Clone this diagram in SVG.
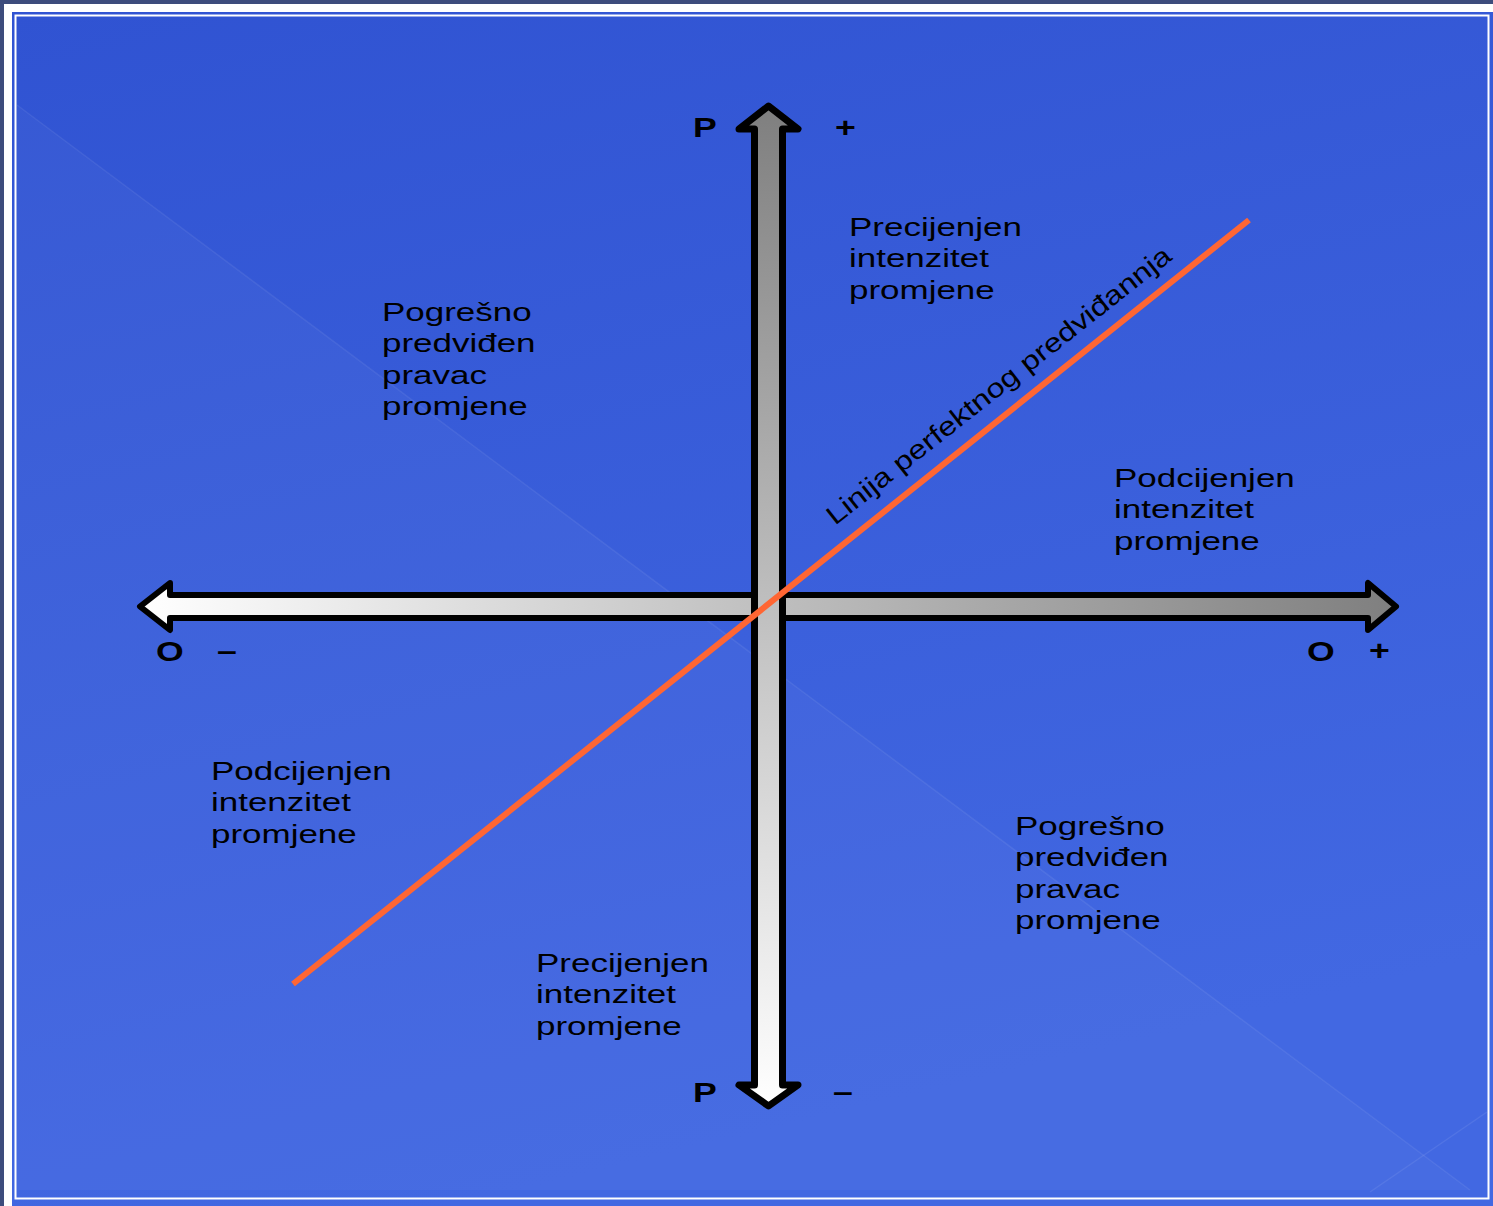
<svg xmlns="http://www.w3.org/2000/svg" width="1493" height="1206" viewBox="0 0 1493 1206">
  <style>
    .lbl { font-family: "Liberation Sans", Arial, sans-serif; font-size: 26.5px; fill: #000; }
    .ax { font-family: "Liberation Sans", Arial, sans-serif; font-size: 27px; font-weight: bold; fill: #000; }
    .arrow { stroke: #000; stroke-linejoin: round; }
  </style>
  <defs>
    <linearGradient id="bg" x1="0" y1="0" x2="0.3" y2="1">
      <stop offset="0" stop-color="#3053d2"/>
      <stop offset="1" stop-color="#4268e2"/>
    </linearGradient>
    <linearGradient id="gv" gradientUnits="userSpaceOnUse" x1="0" y1="106" x2="0" y2="1106">
      <stop offset="0" stop-color="#7f7f7f"/>
      <stop offset="1" stop-color="#ffffff"/>
    </linearGradient>
    <linearGradient id="gh" gradientUnits="userSpaceOnUse" x1="140" y1="0" x2="1396" y2="0">
      <stop offset="0" stop-color="#ffffff"/>
      <stop offset="1" stop-color="#7f7f7f"/>
    </linearGradient>
  </defs>

  <g id="background">
    <rect x="0" y="0" width="1493" height="1206" fill="#3d4c7c"/>
    <rect x="4" y="4" width="1489" height="1202" fill="#ffffff"/>
    <rect x="12" y="12" width="1481" height="1194" fill="url(#bg)"/>
    <polygon points="17,105 1470,1190 17,1190" fill="#ffffff" fill-opacity="0.03"/>
    <line x1="17" y1="105" x2="1470" y2="1190" stroke="#ffffff" stroke-opacity="0.07" stroke-width="1.5"/>
    <line x1="1487" y1="1112" x2="1370" y2="1192" stroke="#ffffff" stroke-opacity="0.08" stroke-width="1.5"/>
    <rect x="15.5" y="15.5" width="1473" height="1183" fill="none" stroke="#ffffff" stroke-width="2"/>
  </g>

  <g id="axis-o">
    <path class="arrow" stroke-width="6" fill="url(#gh)" d="M170,595 L170,583 L140,606.5 L170,630 L170,618 L1368,618 L1368,630 L1396,606.5 L1368,583 L1368,595 Z"/>
  </g>
  <g id="axis-p">
    <path class="arrow" stroke-width="7" fill="url(#gv)" d="M754.5,1085 L754.5,129 L739,129 L768.5,106 L798,129 L782.5,129 L782.5,1085 L798,1085 L768.5,1106 L739,1085 Z"/>
  </g>

  <g id="connectors">
    <line x1="293" y1="984" x2="1249" y2="220" stroke="#ff6633" stroke-width="6"/>
  </g>

  <g id="line-label">
    <text class="lbl" transform="translate(835,526) rotate(-38.3) scale(1.22,1)">Linija perfektnog predviđannja</text>
  </g>

  <g id="axis-labels">
    <text class="ax" transform="translate(693,0) scale(1.32,1)" y="137">P</text>
    <text class="ax" transform="translate(835,0) scale(1.32,1)" y="137">+</text>
    <text class="ax" transform="translate(693,0) scale(1.32,1)" y="1102">P</text>
    <text class="ax" transform="translate(833,0) scale(1.32,1)" y="1101">–</text>
    <text class="ax" transform="translate(156,0) scale(1.32,1)" y="661">O</text>
    <text class="ax" transform="translate(217,0) scale(1.32,1)" y="660">–</text>
    <text class="ax" transform="translate(1307,0) scale(1.32,1)" y="661">O</text>
    <text class="ax" transform="translate(1369,0) scale(1.32,1)" y="660">+</text>
  </g>

  <g id="q1-precijenjen">
    <text class="lbl" transform="translate(849,0) scale(1.32,1)"><tspan x="0" y="236">Precijenjen</tspan><tspan x="0" y="267.5">intenzitet</tspan><tspan x="0" y="299">promjene</tspan></text>
  </g>
  <g id="q2-pogresno">
    <text class="lbl" transform="translate(382,0) scale(1.32,1)"><tspan x="0" y="321">Pogrešno</tspan><tspan x="0" y="352.5">predviđen</tspan><tspan x="0" y="384">pravac</tspan><tspan x="0" y="415.5">promjene</tspan></text>
  </g>
  <g id="q1-podcijenjen">
    <text class="lbl" transform="translate(1114,0) scale(1.32,1)"><tspan x="0" y="487">Podcijenjen</tspan><tspan x="0" y="518.5">intenzitet</tspan><tspan x="0" y="550">promjene</tspan></text>
  </g>
  <g id="q3-podcijenjen">
    <text class="lbl" transform="translate(211,0) scale(1.32,1)"><tspan x="0" y="780">Podcijenjen</tspan><tspan x="0" y="811.5">intenzitet</tspan><tspan x="0" y="843">promjene</tspan></text>
  </g>
  <g id="q4-pogresno">
    <text class="lbl" transform="translate(1015,0) scale(1.32,1)"><tspan x="0" y="835">Pogrešno</tspan><tspan x="0" y="866.5">predviđen</tspan><tspan x="0" y="898">pravac</tspan><tspan x="0" y="929.5">promjene</tspan></text>
  </g>
  <g id="q3-precijenjen">
    <text class="lbl" transform="translate(536,0) scale(1.32,1)"><tspan x="0" y="972">Precijenjen</tspan><tspan x="0" y="1003.5">intenzitet</tspan><tspan x="0" y="1035">promjene</tspan></text>
  </g>
</svg>
